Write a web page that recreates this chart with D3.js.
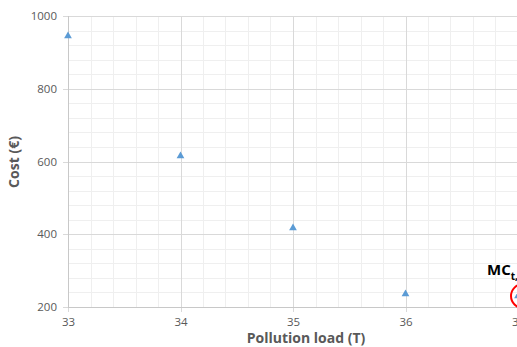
<!DOCTYPE html>
<html>
<head>
<meta charset="utf-8">
<script src="https://cdn.jsdelivr.net/npm/d3@7"></script>
<style>
  html, body { margin: 0; padding: 0; background: #fff; overflow: hidden; }
  #chart { width: 517px; height: 347px; overflow: hidden; }
  text { font-family: "Open Sans", "Liberation Sans", sans-serif; }
</style>
</head>
<body>
<div id="chart"></div>
<script>
// data
var loads = [33, 34, 35, 36, 37]
var costs = [945, 615, 417, 236, 230]
var xTicks = [33, 34, 35, 36, 37]
var yTicks = [200, 400, 600, 800, 1000]

var svg = d3.select("#chart").append("svg")
    .attr("width", 560)
    .attr("height", 347)

var x = d3.scaleLinear().domain([33, 37]).range([68, 518])
var y = d3.scaleLinear().domain([200, 1000]).range([307, 16])

// minor grid
var g = svg.append("g")
g.selectAll(".vminor")
  .data(d3.range(33, 37.01, 0.2))
  .enter().append("line")
    .attr("x1", d => Math.round(x(d)) + 0.5)
    .attr("x2", d => Math.round(x(d)) + 0.5)
    .attr("y1", y(1000)).attr("y2", y(200))
    .style("stroke", "#efefef")
g.selectAll(".hminor")
  .data(d3.range(200, 1001, 40))
  .enter().append("line")
    .attr("y1", d => Math.round(y(d)) + 0.5)
    .attr("y2", d => Math.round(y(d)) + 0.5)
    .attr("x1", x(33)).attr("x2", x(37) + 40)
    .style("stroke", "#efefef")

// major grid
g.selectAll(".vmajor")
  .data(xTicks)
  .enter().append("line")
    .attr("x1", d => Math.round(x(d)) + 0.5)
    .attr("x2", d => Math.round(x(d)) + 0.5)
    .attr("y1", y(1000)).attr("y2", y(200) + 5)
    .style("stroke", "#d9d9d9")
g.selectAll(".hmajor")
  .data(yTicks)
  .enter().append("line")
    .attr("y1", d => Math.round(y(d)) + 0.5)
    .attr("y2", d => Math.round(y(d)) + 0.5)
    .attr("x1", x(33) - 5).attr("x2", x(37) + 40)
    .style("stroke", "#d9d9d9")

// axes
var xAxis = d3.axisBottom(x).tickValues(xTicks).tickFormat(d3.format("d")).tickSize(0).tickPadding(11)
svg.append("g")
   .attr("transform", "translate(0," + y(200) + ")")
   .call(xAxis)
   .call(a => a.select(".domain").remove())
   .selectAll("text")
     .style("font-size", "11.5px").style("fill", "#595959")

var yAxis = d3.axisLeft(y).tickValues(yTicks).tickFormat(d3.format("d")).tickSize(0).tickPadding(11)
svg.append("g")
   .attr("transform", "translate(" + x(33) + ",0)")
   .call(yAxis)
   .call(a => a.select(".domain").remove())
   .selectAll("text")
     .style("font-size", "11.5px").style("fill", "#595959")

// axis lines
svg.append("line")
   .attr("x1", Math.round(x(33)) + 0.5).attr("x2", Math.round(x(33)) + 0.5)
   .attr("y1", y(1000)).attr("y2", y(200))
   .style("stroke", "#c8c8c8")
svg.append("line")
   .attr("x1", x(33)).attr("x2", x(37) + 40)
   .attr("y1", Math.round(y(200)) + 0.5).attr("y2", Math.round(y(200)) + 0.5)
   .style("stroke", "#c8c8c8")

// axis titles
svg.append("text")
   .attr("x", 306).attr("y", 343)
   .attr("text-anchor", "middle")
   .style("font-size", "14px").style("font-weight", "bold").style("fill", "#595959")
   .text("Pollution load (T)")
svg.append("text")
   .attr("transform", "translate(19," + 162 + ") rotate(-90)")
   .attr("text-anchor", "middle")
   .style("font-size", "14px").style("font-weight", "bold").style("fill", "#595959")
   .text("Cost (€)")

// points
var tri = d3.symbol().type(d3.symbolTriangle).size(26)
svg.selectAll(".pt")
  .data(loads)
  .enter().append("path")
    .attr("d", tri)
    .attr("transform", (d, i) => "translate(" + x(d) + "," + y(costs[i]) + ")")
    .style("fill", "#5b9bd5")

// annotation
var last = loads.length - 1
svg.append("circle")
   .attr("cx", x(loads[last]) + 5).attr("cy", y(costs[last]))
   .attr("r", 12)
   .style("fill", "none").style("stroke", "#ff0000").style("stroke-width", 2)

var lab = svg.append("text")
   .attr("x", x(loads[last]) - 31).attr("y", y(costs[last]) - 21)
   .style("font-size", "15px").style("font-weight", "bold").style("fill", "#000")
lab.append("tspan").text("MC")
lab.append("tspan").attr("dy", 5).style("font-size", "10px").text("t,a")
</script>
</body>
</html>
